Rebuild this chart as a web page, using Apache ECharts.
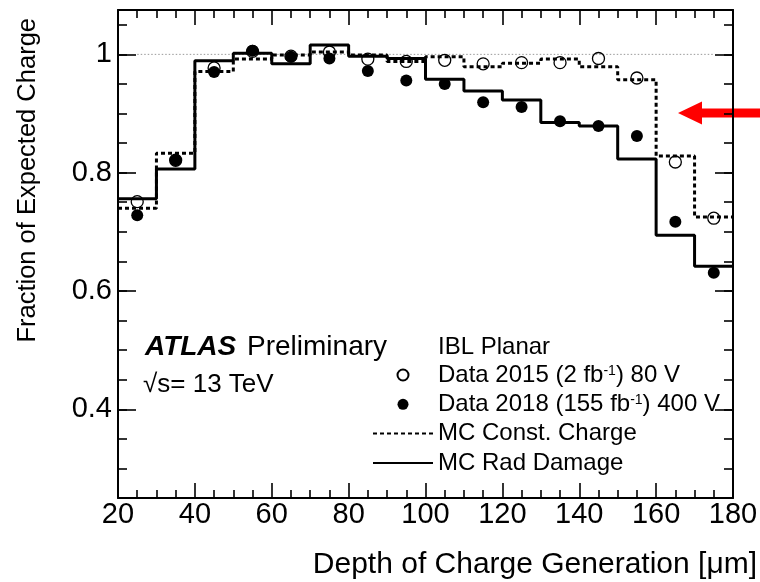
<!DOCTYPE html>
<html><head><meta charset="utf-8">
<script src="https://cdn.jsdelivr.net/npm/echarts@6/dist/echarts.min.js"></script>
<style>html,body{margin:0;padding:0;background:#fff}#c{width:760px;height:582px}</style>
</head><body><div id="c"></div>
<script>
// ---- data ----
const binEdges = [20,30,40,50,60,70,80,90,100,110,120,130,140,150,160,170,180];
const mcConst  = [0.740,0.833,0.971,0.992,0.999,1.004,0.999,0.988,0.996,0.979,0.985,0.992,0.979,0.957,0.828,0.725];
const mcRad    = [0.756,0.806,0.989,1.002,0.984,1.016,0.997,0.993,0.958,0.938,0.923,0.885,0.879,0.823,0.694,0.642];
const binCenters = [25,35,45,55,65,75,85,95,105,115,125,135,145,155,165,175];
const data2015 = [0.751,0.821,0.977,1.005,0.997,1.004,0.992,0.988,0.990,0.984,0.986,0.986,0.993,0.960,0.818,0.723];
const data2018 = [0.728,0.821,0.970,1.006,0.996,0.993,0.972,0.956,0.950,0.919,0.911,0.887,0.879,0.862,0.717,0.631];
const yMajorTicks = [0.4,0.6,0.8,1];
const refLineX = [25,175];
const refLineY = 1;

const FONT = '"Liberation Sans", Arial, Helvetica, sans-serif';
const yMinorTicks = [];
for (let v = 0.25; v < 1.0751; v += 0.05) yMinorTicks.push(Math.round(v*1000)/1000);

function stepData(vals){ return binEdges.map((e,i)=>[e, vals[Math.min(i, vals.length-1)]]); }
function pts(ys){ return binCenters.map((x,i)=>[x, ys[i]]); }

const names = ['Data 2015 (2 fb-1) 80 V','Data 2018 (155 fb-1) 400 V','MC Const. Charge','MC Rad Damage'];

const chart = echarts.init(document.getElementById('c'), null, {renderer:'canvas'});
const lineAx = {lineStyle:{color:'#000', width:2}};
const yCommon = {type:'value', min:0.25, max:1.075, splitLine:{show:false}};
const xCommon = {type:'value', min:20, max:180, interval:20, splitLine:{show:false},
  axisLine: lineAx,
  axisTick:{show:true, inside:true, length:15, lineStyle:{color:'#000', width:1.6}},
  minorTick:{show:true, splitNumber:4, length:8, lineStyle:{color:'#000', width:1.6}}};

chart.setOption({
  animation:false,
  backgroundColor:'#fff',
  grid:{left:118, right:27, top:10, bottom:84, containLabel:false, outerBoundsMode:'none'},
  xAxis:[
    Object.assign({}, xCommon, {position:'bottom',
      axisLabel:{show:true, margin:2, color:'#000', fontSize:29, fontFamily:FONT}}),
    Object.assign({}, xCommon, {position:'top', axisLabel:{show:false}})
  ],
  yAxis:[
    Object.assign({}, yCommon, {position:'left', axisLine:lineAx,
      axisTick:{show:true, inside:true, length:18, customValues:yMajorTicks, lineStyle:{color:'#000', width:1.6}},
      axisLabel:{show:true, customValues:yMajorTicks, margin:6, color:'#000', fontSize:29, fontFamily:FONT,
        formatter:v => (Math.abs(v-1)<1e-9 ? '1' : v.toFixed(1))}}),
    Object.assign({}, yCommon, {position:'left', axisLine:{show:false},
      axisTick:{show:true, inside:true, length:9, customValues:yMinorTicks, lineStyle:{color:'#000', width:1.6}},
      axisLabel:{show:false}}),
    Object.assign({}, yCommon, {position:'right', axisLine:lineAx,
      axisTick:{show:true, inside:true, length:18, customValues:yMajorTicks, lineStyle:{color:'#000', width:1.6}},
      axisLabel:{show:false}}),
    Object.assign({}, yCommon, {position:'right', axisLine:{show:false},
      axisTick:{show:true, inside:true, length:9, customValues:yMinorTicks, lineStyle:{color:'#000', width:1.6}},
      axisLabel:{show:false}})
  ],
  legend:{
    data:[
      {name:names[0]},
      {name:names[1]},
      {name:names[2], itemStyle:{opacity:0}},
      {name:names[3], itemStyle:{opacity:0}}
    ],
    orient:'vertical', left:372, top:363, padding:0,
    itemWidth:60, itemHeight:11, itemGap:5.3, selectedMode:false,
    textStyle:{color:'#000', fontSize:24, fontFamily:FONT, lineHeight:22,
      rich:{sup:{fontSize:14, fontFamily:FONT, color:'#000', verticalAlign:'top', lineHeight:14}}},
    formatter: n => n.replace('fb-1', 'fb{sup|-1}')
  },
  series:[
    {type:'line', name:'ref', data:refLineX.map(x=>[x, refLineY]), symbol:'none', silent:true, z:1,
      lineStyle:{color:'#999', width:1, type:[1.5,2]}},
    {type:'line', name:names[2], data:stepData(mcConst), step:'end', symbol:'none', silent:true, z:2,
      lineStyle:{color:'#000', width:3, type:[4,3]}, itemStyle:{color:'#000'}},
    {type:'line', name:names[3], data:stepData(mcRad), step:'end', symbol:'none', silent:true, z:3,
      lineStyle:{color:'#000', width:3}, itemStyle:{color:'#000'}},
    {type:'scatter', name:names[0], data:pts(data2015), symbol:'circle', symbolSize:12, silent:true, z:4,
      itemStyle:{color:'rgba(0,0,0,0)', borderColor:'#000', borderWidth:1.3, opacity:1}},
    {type:'scatter', name:names[1], data:pts(data2018), symbol:'circle', symbolSize:12, silent:true, z:5,
      itemStyle:{color:'#000', opacity:1}}
  ],
  graphic:[
    {type:'text', x:145, y:347, silent:true, style:{text:'ATLAS', fontSize:28, fontFamily:FONT, fontWeight:'bold', fontStyle:'italic', fill:'#000', align:'left', verticalAlign:'middle'}},
    {type:'text', x:247, y:347, silent:true, style:{text:'Preliminary', fontSize:28, fontFamily:FONT, fill:'#000', align:'left', verticalAlign:'middle'}},
    {type:'text', x:143, y:385, silent:true, style:{text:'\u221As= 13 TeV', fontSize:26, fontFamily:FONT, fill:'#000', align:'left', verticalAlign:'middle'}},
    {type:'text', x:438, y:347, silent:true, style:{text:'IBL Planar', fontSize:24, fontFamily:FONT, fill:'#000', align:'left', verticalAlign:'middle'}},
    {type:'text', x:757, y:565, silent:true, style:{text:'Depth of Charge Generation [\u03BCm]', fontSize:30, fontFamily:FONT, fill:'#000', align:'right', verticalAlign:'middle'}},
    {type:'text', x:28, y:18, rotation:Math.PI/2, silent:true, style:{text:'Fraction of Expected Charge', fontSize:25.5, fontFamily:FONT, fill:'#000', align:'right', verticalAlign:'middle'}},
    {type:'polygon', silent:true, shape:{points:[[678,113],[702,101.5],[702,108.5],[760,108.5],[760,117.5],[702,117.5],[702,124.5]]}, style:{fill:'#f00'}}
  ]
});
</script></body></html>
